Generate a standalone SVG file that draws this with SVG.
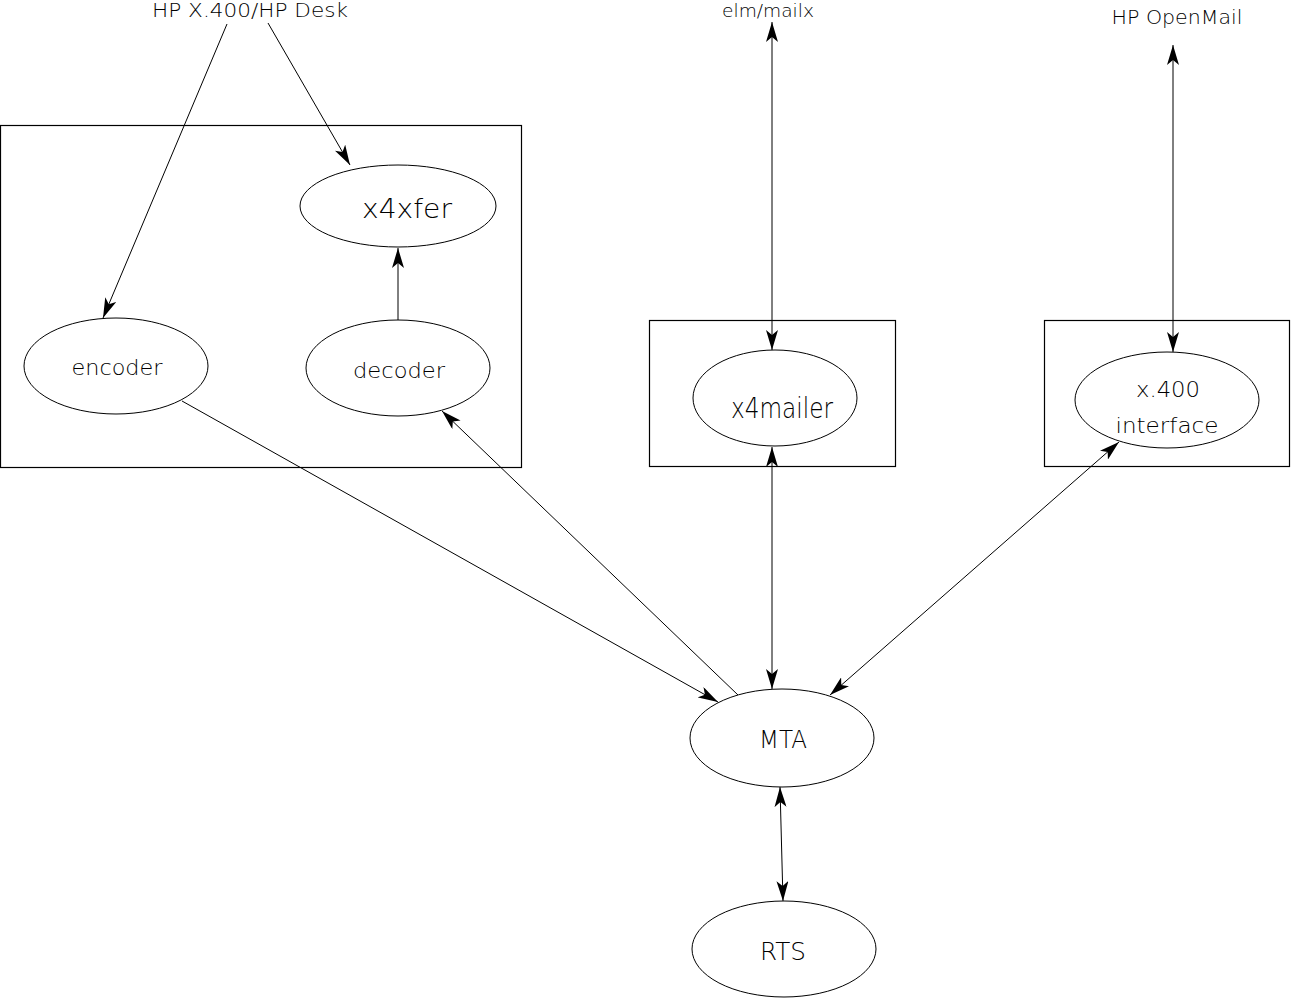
<svg xmlns="http://www.w3.org/2000/svg" width="1291" height="999" viewBox="0 0 1291 999">
<style>
.box{fill:none;stroke:#000;stroke-width:1.2}
.node{fill:#fff;stroke:#000;stroke-width:1}
.lbl{font-family:"DejaVu Sans","Liberation Sans",Arial,sans-serif;font-weight:200;fill:#000;text-anchor:middle}
.edge{fill:none;stroke:#000;stroke-width:1}
</style>
<defs>
<marker id="ah" viewBox="0 0 20 12" refX="20" refY="6" markerWidth="20" markerHeight="12" markerUnits="userSpaceOnUse" orient="auto-start-reverse">
<path d="M0,0 L20,6 L0,12 L5,6 z" fill="#000"/>
</marker>
</defs>
<rect width="1291" height="999" fill="#fff"/>
<g id="containers">
<rect class="box" x="0.5" y="125.5" width="521" height="342"/>
<rect class="box" x="649.5" y="320.5" width="246" height="146"/>
<rect class="box" x="1044.5" y="320.5" width="245" height="146"/>
</g>
<g id="connectors">
<line class="edge" x1="227" y1="24" x2="103" y2="318" marker-end="url(#ah)"/>
<line class="edge" x1="268" y1="23" x2="350" y2="165" marker-end="url(#ah)"/>
<line class="edge" x1="398" y1="320" x2="398" y2="248" marker-end="url(#ah)"/>
<line class="edge" x1="182" y1="401" x2="718" y2="702" marker-end="url(#ah)"/>
<line class="edge" x1="738" y1="695" x2="442" y2="411" marker-end="url(#ah)"/>
<line class="edge" x1="772" y1="22" x2="772" y2="350" marker-start="url(#ah)" marker-end="url(#ah)"/>
<line class="edge" x1="772" y1="447" x2="772" y2="689" marker-start="url(#ah)" marker-end="url(#ah)"/>
<line class="edge" x1="1173" y1="45" x2="1173" y2="352" marker-start="url(#ah)" marker-end="url(#ah)"/>
<line class="edge" x1="1119" y1="442" x2="830" y2="695" marker-start="url(#ah)" marker-end="url(#ah)"/>
<line class="edge" x1="780" y1="787" x2="783" y2="901" marker-start="url(#ah)" marker-end="url(#ah)"/>
</g>
<g id="ext-hpx400"><text class="lbl" x="250" y="17" font-size="19" textLength="196" lengthAdjust="spacingAndGlyphs">HP X.400/HP Desk</text></g>
<g id="ext-elm"><text class="lbl" x="768" y="17" font-size="18" textLength="92" lengthAdjust="spacingAndGlyphs">elm/mailx</text></g>
<g id="ext-openmail"><text class="lbl" x="1177" y="24" font-size="19" textLength="131" lengthAdjust="spacingAndGlyphs">HP OpenMail</text></g>
<g id="x4xfer">
<ellipse class="node" cx="398" cy="206" rx="98" ry="41"/>
<text class="lbl" x="407" y="218" font-size="27" textLength="90" lengthAdjust="spacingAndGlyphs">x4xfer</text>
</g>
<g id="encoder">
<ellipse class="node" cx="116" cy="366" rx="92" ry="48"/>
<text class="lbl" x="117" y="375" font-size="22" textLength="91" lengthAdjust="spacingAndGlyphs">encoder</text>
</g>
<g id="decoder">
<ellipse class="node" cx="398" cy="368" rx="92" ry="48"/>
<text class="lbl" x="399" y="378" font-size="22" textLength="92" lengthAdjust="spacingAndGlyphs">decoder</text>
</g>
<g id="x4mailer">
<ellipse class="node" cx="775" cy="398" rx="82" ry="48"/>
<text class="lbl" x="782" y="418" font-size="28" textLength="102" lengthAdjust="spacingAndGlyphs">x4mailer</text>
</g>
<g id="x400if">
<ellipse class="node" cx="1167" cy="400" rx="92" ry="48"/>
<text class="lbl" x="1168" y="397" font-size="22" textLength="64" lengthAdjust="spacingAndGlyphs">x.400</text>
<text class="lbl" x="1167" y="433" font-size="22" textLength="103" lengthAdjust="spacingAndGlyphs">interface</text>
</g>
<g id="MTA">
<ellipse class="node" cx="782" cy="738" rx="92" ry="49"/>
<text class="lbl" x="783" y="748" font-size="25" textLength="48" lengthAdjust="spacingAndGlyphs">MTA</text>
</g>
<g id="RTS">
<ellipse class="node" cx="784" cy="949" rx="92" ry="48"/>
<text class="lbl" x="783" y="960" font-size="25" textLength="46" lengthAdjust="spacingAndGlyphs">RTS</text>
</g>
</svg>
